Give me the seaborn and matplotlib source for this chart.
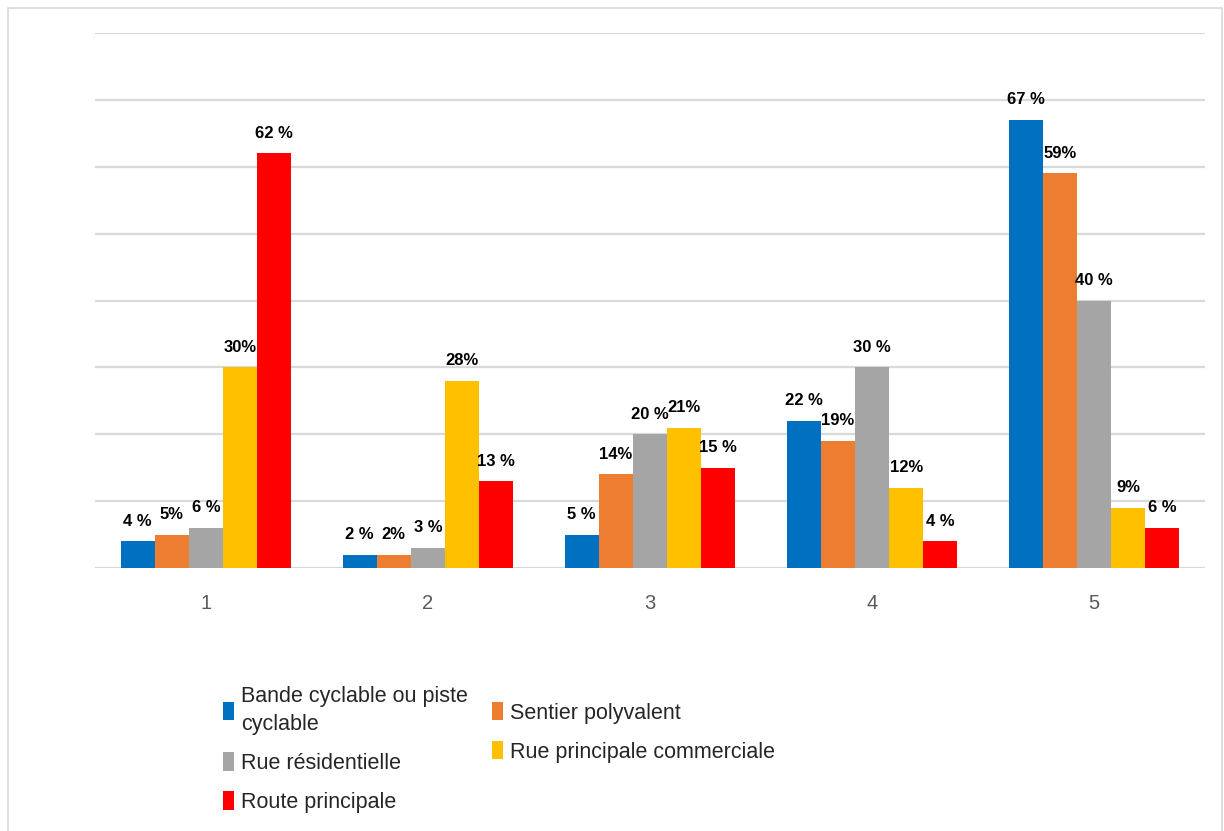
import pandas as pd
import matplotlib
matplotlib.use('Agg')
import matplotlib.pyplot as plt
from matplotlib.patches import Rectangle
import seaborn as sns

# --- data ---
groups = ['1', '2', '3', '4', '5']
series = [
    'Bande cyclable ou piste\ncyclable',
    'Sentier polyvalent',
    'Rue résidentielle',
    'Rue principale commerciale',
    'Route principale',
]
bande = [4, 2, 5, 22, 67]
sentier = [5, 2, 14, 19, 59]
residentielle = [6, 3, 20, 30, 40]
commerciale = [30, 28, 21, 12, 9]
route = [62, 13, 15, 4, 6]

# label strings exactly as written in the chart (spacing varies)
bande_lbl = ['4 %', '2 %', '5 %', '22 %', '67 %']
sentier_lbl = ['5%', '2%', '14%', '19%', '59%']
residentielle_lbl = ['6 %', '3 %', '20 %', '30 %', '40 %']
commerciale_lbl = ['30%', '28%', '21%', '12%', '9%']
route_lbl = ['62 %', '13 %', '15 %', '4 %', '6 %']

colors = ['#0070C0', '#ED7D31', '#A5A5A5', '#FFC000', '#FF0000']

values = [bande, sentier, residentielle, commerciale, route]
labels = [bande_lbl, sentier_lbl, residentielle_lbl, commerciale_lbl, route_lbl]

df = pd.DataFrame({
    'groupe': groups * len(series),
    'type': [s for s in series for _ in groups],
    'pct': [v for vals in values for v in vals],
})

sns.set_theme(style='white')
plt.rcParams['font.family'] = ['Liberation Sans', 'DejaVu Sans']

fig = plt.figure(figsize=(12.24, 8.31), dpi=100)
ax = fig.add_axes([95 / 1224, 1 - 568 / 831, 1110 / 1224, 535 / 831])

sns.barplot(
    data=df, x='groupe', y='pct', hue='type',
    order=groups, hue_order=series, palette=colors,
    width=0.77, gap=0, saturation=1, linewidth=0, ax=ax, legend=True
)

for cont, lbl in zip(ax.containers, labels):
    ax.bar_label(cont, labels=lbl, padding=9, fontsize=12,
                 fontweight='bold', color='black')

ax.set_ylim(0, 80)
ax.set_yticks(range(0, 81, 10))
ax.set_yticklabels([])
ax.tick_params(axis='y', length=0)
ax.tick_params(axis='x', length=0, pad=19, labelsize=14.5, labelcolor='#595959')
ax.grid(axis='y', color='#d9d9d9', linewidth=1.6)
ax.set_axisbelow(True)
for sp in ax.spines.values():
    sp.set_visible(False)
ax.set_xlabel('')
ax.set_ylabel('')

# legend: two columns, order as in the original
handles, names = ax.get_legend_handles_labels()
ax.legend_.remove()
idx = [0, 2, 4, 1, 3]
leg = fig.legend([handles[i] for i in idx], [names[i] for i in idx],
                 loc='upper left', bbox_to_anchor=(223 / 1224, 1 - 686 / 831),
                 ncol=2, frameon=False, fontsize=15.5,
                 borderaxespad=0, borderpad=0,
                 handlelength=0.5, handleheight=0.95, handletextpad=0.35,
                 columnspacing=1.1, labelspacing=0.8)
for t in leg.get_texts():
    t.set_linespacing(1.45)

# outer chart border
fig.patches.append(Rectangle((8 / 1224, -0.01), 1214 / 1224, 1 - 8 / 831 + 0.01,
                             transform=fig.transFigure, fill=False,
                             edgecolor='#d9d9d9', linewidth=1.2))

fig.savefig('out.png', dpi=100, facecolor='white')
